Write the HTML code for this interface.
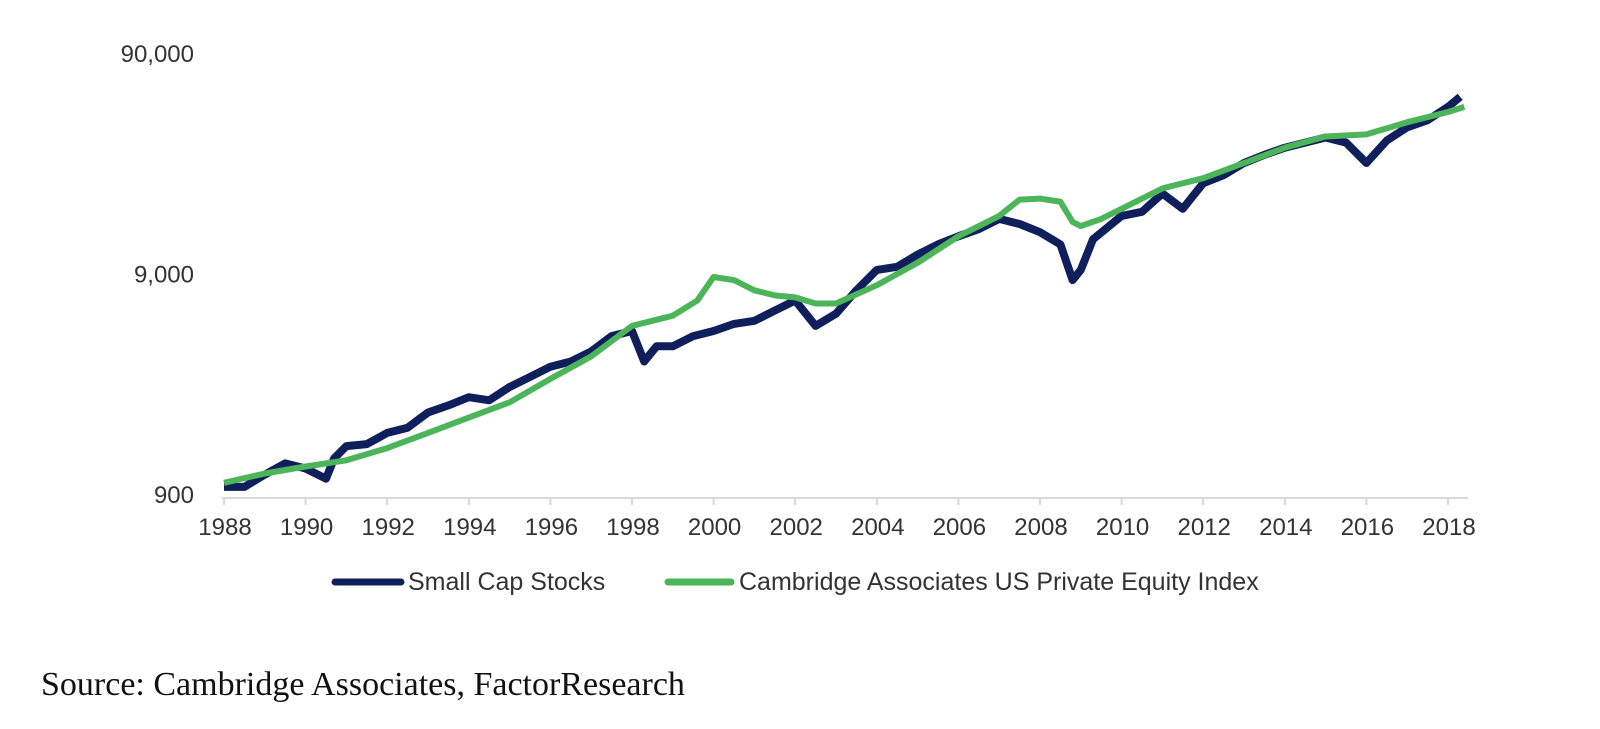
<!DOCTYPE html>
<html><head><meta charset="utf-8"><style>
html,body{margin:0;padding:0;background:#fff;width:1600px;height:729px;overflow:hidden}
svg text{font-family:"Liberation Sans",Arial,sans-serif}
</style></head><body>
<svg id="chart" width="1600" height="729">
<g id="axes"></g><g id="series"></g>
<g>
<line x1="335" y1="582" x2="401" y2="582" stroke="#0f1f5c" stroke-width="7" stroke-linecap="round"/>
<text x="408" y="590" font-size="25" fill="#333">Small Cap Stocks</text>
<line x1="668" y1="582" x2="731" y2="582" stroke="#4cb55a" stroke-width="7" stroke-linecap="round"/>
<text x="739" y="590" font-size="25" fill="#333">Cambridge Associates US Private Equity Index</text>
</g>
<text x="41" y="695" font-size="34" fill="#111" style="font-family:'Liberation Serif',serif">Source: Cambridge Associates, FactorResearch</text>
</svg>
<script>
const smallYears=[1988,1988.5,1989,1989.5,1990,1990.5,1990.7,1991,1991.5,1992,1992.5,1993,1993.5,1994,1994.5,1995,1995.5,1996,1996.5,1997,1997.5,1998,1998.3,1998.6,1999,1999.5,2000,2000.5,2001,2001.5,2002,2002.5,2003,2003.5,2004,2004.5,2005,2005.5,2006,2006.5,2007,2007.5,2008,2008.5,2008.8,2009,2009.3,2010,2010.5,2011,2011.5,2012,2012.5,2013,2013.5,2014,2014.5,2015,2015.5,2016,2016.5,2017,2017.5,2018,2018.3];
const smallValues=[990,990,1125,1265,1199,1078,1334,1516,1548,1740,1836,2153,2319,2525,2446,2809,3123,3474,3665,4075,4781,5042,3665,4298,4298,4781,5042,5431,5608,6235,6935,5317,6040,7713,9540,9855,11196,12447,13554,14607,16245,15408,14148,12447,8580,9540,13131,16767,17505,21186,18063,23562,25659,29151,31743,34191,36063,38034,36063,29151,36837,42291,45567,52317,58185];
const peYears=[1988,1989,1990,1991,1992,1993,1994,1995,1996,1997,1998,1999,1999.6,2000,2000.5,2001,2001.5,2002,2002.5,2003,2004,2005,2006,2007,2007.5,2008,2008.5,2008.8,2009,2009.5,2010,2011,2012,2013,2014,2015,2016,2017,2018,2018.4];
const peValues=[1033,1138,1225,1306,1484,1740,2041,2394,3058,3865,5317,5914,6935,8858,8580,7713,7313,7160,6718,6718,8136,10278,13554,16767,19881,20088,19458,15732,15075,16245,18063,22347,24858,29151,34191,38439,39267,44604,49608,52317];
const tickYears=[1988,1990,1992,1994,1996,1998,2000,2002,2004,2006,2008,2010,2012,2014,2016,2018];
const yTicks=[900,9000,90000];
const yTickLabels=["900","9,000","90,000"];
const NS="http://www.w3.org/2000/svg";
const xS=y=>224+(y-1988)*40.8;
const yS=v=>496-220.5*Math.log10(v/900);
const axes=document.getElementById('axes'),series=document.getElementById('series');
function mk(tag,attrs,parent){const e=document.createElementNS(NS,tag);for(const k in attrs)e.setAttribute(k,attrs[k]);parent.appendChild(e);return e;}
const ax=mk('line',{x1:222,y1:498,x2:1468,y2:498,stroke:'#d9d9d9','stroke-width':2},axes);


tickYears.forEach(t=>{
 const l=mk('line',{x1:xS(t),y1:498,x2:xS(t),y2:505,stroke:'#d9d9d9','stroke-width':2},axes);
 
 
 const tx=mk('text',{x:xS(t)+1,y:535,'font-size':24,fill:'#333','text-anchor':'middle'},axes);
 tx.textContent=t;
 
 
});
yTicks.forEach((v,i)=>{
 const tx=mk('text',{x:194,y:yS(v)+7,'font-size':24,fill:'#333','text-anchor':'end'},axes);
 tx.textContent=yTickLabels[i];
 
 
});
function path(xs,vs){return xs.map((x,i)=>(i?'L':'M')+xS(x).toFixed(1)+','+yS(vs[i]).toFixed(1)).join(' ');}
const p1=mk('path',{d:path(smallYears,smallValues),fill:'none',stroke:'#0f1f5c','stroke-width':8,'stroke-linejoin':'round'},series);


const p2=mk('path',{d:path(peYears,peValues),fill:'none',stroke:'#4cb55a','stroke-width':6,'stroke-linejoin':'round'},series);


</script>
</body></html>
